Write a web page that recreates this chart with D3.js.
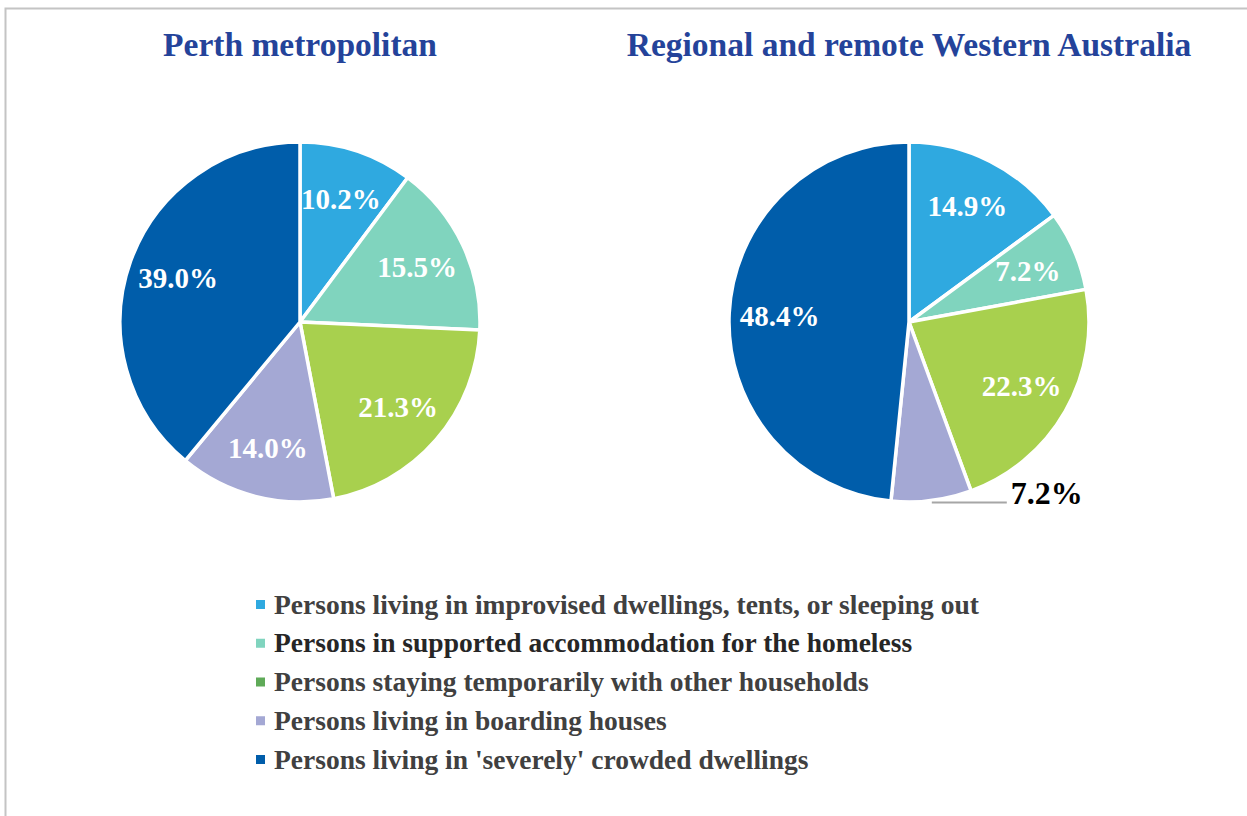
<!DOCTYPE html>
<html>
<head>
<meta charset="utf-8">
<script src="https://cdn.jsdelivr.net/npm/d3@7"></script>
<style>
  body { margin: 0; background: #fff; }
  svg text { font-family: "Liberation Serif", "Times New Roman", serif; font-weight: bold; }
</style>
</head>
<body>
<svg id="chart" width="1247" height="816"></svg>
<script>
// data
var categories = [
    "Persons living in improvised dwellings, tents, or sleeping out",
    "Persons in supported accommodation for the homeless",
    "Persons staying temporarily with other households",
    "Persons living in boarding houses",
    "Persons living in 'severely' crowded dwellings"
];
var perthValues = [10.2, 15.5, 21.3, 14.0, 39.0];
var regionalValues = [14.9, 7.2, 22.3, 7.2, 48.4];
var chartTitles = ["Perth metropolitan", "Regional and remote Western Australia"];

var sliceColors = ["#2FA9E0", "#80D4BE", "#A8D04E", "#A4A8D4", "#005DAA"];
var legendColors = ["#2FA9E0", "#80D4BE", "#5FAA58", "#A4A8D4", "#005DAA"];
var legendTextColors = ["#404040", "#262626", "#404040", "#404040", "#404040"];

var svg = d3.select("#chart");

// outer frame (only left and top edges show)
svg.append("path")
    .attr("d", "M5.5,816 L5.5,8.5 L1247,8.5")
    .attr("fill", "none")
    .attr("stroke", "#c4c4c4")
    .attr("stroke-width", 2);

var radius = 180;
var pie = d3.pie().sort(null).value(function (d) { return d; });
var arc = d3.arc().innerRadius(0).outerRadius(radius);
var labelArc = d3.arc().innerRadius(radius * 0.72).outerRadius(radius * 0.72);

var charts = [
    { title: chartTitles[0], values: perthValues, cx: 300, cy: 322, outside: [] },
    { title: chartTitles[1], values: regionalValues, cx: 909, cy: 322, outside: [3] }
];

charts.forEach(function (c) {
    svg.append("text")
        .attr("x", c.cx)
        .attr("y", 56)
        .attr("text-anchor", "middle")
        .attr("fill", "#24439A")
        .style("font-size", "33.5px")
        .text(c.title);

    var g = svg.append("g").attr("transform", "translate(" + c.cx + "," + c.cy + ")");
    var arcs = pie(c.values);

    g.selectAll("path")
        .data(arcs)
        .enter()
        .append("path")
        .attr("d", arc)
        .attr("fill", function (d, i) { return sliceColors[i]; })
        .attr("stroke", "#fff")
        .attr("stroke-width", 3.5)
        .attr("stroke-linejoin", "round");

    g.selectAll("text.inner")
        .data(arcs.filter(function (d) { return c.outside.indexOf(d.index) < 0; }))
        .enter()
        .append("text")
        .attr("class", "inner")
        .attr("transform", function (d) { return "translate(" + labelArc.centroid(d) + ")"; })
        .attr("text-anchor", "middle")
        .attr("dy", "0.35em")
        .attr("fill", "#fff")
        .style("font-size", "29px")
        .text(function (d) { return d.value.toFixed(1) + "%"; });

    // callout labels for small slices
    arcs.filter(function (d) { return c.outside.indexOf(d.index) >= 0; }).forEach(function (d) {
        var mid = (d.startAngle + d.endAngle) / 2;
        var ex = Math.sin(mid) * (radius + 2);
        var ey = -Math.cos(mid) * (radius + 2);
        g.append("line")
            .attr("x1", ex).attr("y1", ey)
            .attr("x2", ex + 75).attr("y2", ey)
            .attr("stroke", "#a6a6a6")
            .attr("stroke-width", 2);
        g.append("text")
            .attr("x", ex + 79)
            .attr("y", ey - 10)
            .attr("dy", "0.35em")
            .attr("fill", "#000")
            .style("font-size", "32px")
            .text(d.value.toFixed(1) + "%");
    });
});

// legend
var legendY = d3.scalePoint().domain(d3.range(categories.length)).range([604, 759]);
var legend = svg.append("g").selectAll("g")
    .data(categories)
    .enter()
    .append("g")
    .attr("transform", function (d, i) { return "translate(256," + legendY(i) + ")"; });

legend.append("rect")
    .attr("x", 0).attr("y", -4)
    .attr("width", 9).attr("height", 9)
    .attr("fill", function (d, i) { return legendColors[i]; });

legend.append("text")
    .attr("x", 18)
    .attr("dy", "0.35em")
    .attr("fill", function (d, i) { return legendTextColors[i]; })
    .style("font-size", "27.5px")
    .text(function (d) { return d; });
</script>
</body>
</html>
